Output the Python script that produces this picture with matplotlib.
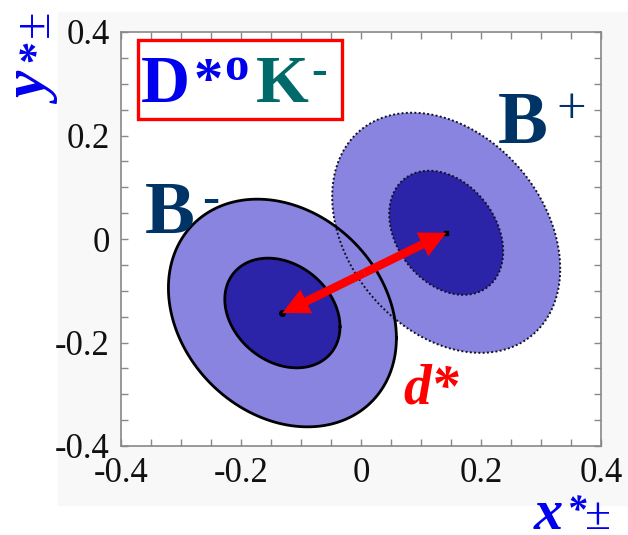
import numpy as np
import matplotlib
matplotlib.use("Agg")
import matplotlib.pyplot as plt
from matplotlib.patches import Rectangle, FancyArrowPatch

plt.rcParams['font.family'] = ['Liberation Serif', 'DejaVu Serif']
plt.rcParams['axes.unicode_minus'] = False

W, H = 628, 535

# contour parameters: centre (x, y), half-extent (sx, sy), correlation
bm_center = [-0.131, -0.143]
bm_inner = [0.096, 0.106, -0.25]
bm_outer = [0.19, 0.22, -0.22]

bp_center = [0.142, 0.012]
bp_inner = [0.095, 0.12, -0.3]
bp_outer = [0.19, 0.232, -0.3]

ticks = [-0.4, -0.2, 0, 0.2, 0.4]
tick_labels = ["-0.4", "-0.2", "0", "0.2", "0.4"]

light = "#8884e0"
dark = "#2c24a8"


def contour(center, shape, n=300):
    sx, sy, rho = shape
    t = np.linspace(0, 2 * np.pi, n)
    x = center[0] + sx * np.cos(t)
    y = center[1] + sy * (rho * np.cos(t) + np.sqrt(1 - rho ** 2) * np.sin(t))
    return x, y


fig = plt.figure(figsize=(W / 100, H / 100), dpi=100)
fig.patches.append(Rectangle((58 / W, 1 - 505 / H), 1 - 58 / W, (505 - 12) / H,
                             transform=fig.transFigure, color="#f8f8f8", zorder=-10))

ax = fig.add_axes([121 / W, 1 - 446 / H, 480 / W, 414 / H])
ax.set_xlim(-0.4, 0.4)
ax.set_ylim(-0.4, 0.4)

# filled regions first, outlines on top so they show through each other
for c, outer in [(bp_center, bp_outer), (bm_center, bm_outer)]:
    ax.fill(*contour(c, outer), color=light, lw=0, zorder=1)
for c, inner in [(bp_center, bp_inner), (bm_center, bm_inner)]:
    ax.fill(*contour(c, inner), color=dark, lw=0, zorder=2)

for shape in [bp_outer, bp_inner]:
    ax.plot(*contour(bp_center, shape), color="#111122", lw=1.4, ls=(0, (1, 1.2)), zorder=3)
for shape in [bm_outer, bm_inner]:
    ax.plot(*contour(bm_center, shape), color="black", lw=2.0, zorder=3)

ax.plot(*bm_center, "o", color="black", ms=4, zorder=4)
ax.plot(*bp_center, "s", color="black", ms=3.5, zorder=4)

# double headed d* arrow between the two centres
mid = [(bm_center[0] + bp_center[0]) / 2, (bm_center[1] + bp_center[1]) / 2]
for end in [bm_center, bp_center]:
    ax.add_patch(FancyArrowPatch(mid, end, arrowstyle="simple,head_length=1.0,head_width=1.0,tail_width=0.32",
                                 mutation_scale=19, color="red", lw=0, shrinkA=0, shrinkB=0, zorder=5))

ax.set_xticks(ticks)
ax.set_xticklabels(tick_labels)
ax.set_yticks(ticks)
ax.set_yticklabels(tick_labels)
ax.set_xticks(np.arange(-0.4, 0.401, 0.05), minor=True)
ax.set_yticks(np.arange(-0.4, 0.401, 0.05), minor=True)
ax.tick_params(which="both", direction="in", top=True, right=True, length=5,
               width=1, color="#888888", labelsize=25, labelcolor="#111111")
ax.tick_params(axis="x", pad=8)
ax.tick_params(axis="y", pad=8)
for s in ax.spines.values():
    s.set_color("#888888")
    s.set_linewidth(1.2)


def put(s, x, y, size, color, weight="bold", style="normal", rot=0):
    fig.text(x / W, 1 - y / H, s, fontsize=size, color=color, fontweight=weight,
             fontstyle=style, rotation=rot, rotation_mode="anchor", ha="left", va="baseline")


# decay mode box
fig.patches.append(Rectangle((138 / W, 1 - 119 / H), 204 / W, 79 / H, transform=fig.transFigure,
                             fill=False, ec="red", lw=2.4, zorder=5))
put("D", 141, 102, 49, "#0000ee")
put("*", 194, 97, 42, "#0000ee")
put("o", 224, 80, 35, "#0000ee")
put("K", 256, 102, 49, "#006a6a")
put("-", 311, 84, 34, "#006a6a")

navy = "#003366"
put("B", 498, 143, 54, navy)
put("+", 556, 123, 38, navy, weight="normal")
put("B", 145, 233, 54, navy)
put("-", 202, 213, 37, navy)

put("d*", 403, 403, 40, "red", style="italic")

# axis titles
put("x", 534, 529, 42, "#0000ee", style="italic")
put("*", 567, 522, 28, "#0000ee", style="italic")
put("±", 585, 529, 34, "#0000ee", weight="normal")
put("y", 51, 104, 44, "#0000ee", style="italic", rot=90)
put("*", 47, 62, 32, "#0000ee", style="italic", rot=90)
put("±", 48, 37, 36, "#0000ee", weight="normal", rot=90)

fig.savefig("out.png", dpi=100)
